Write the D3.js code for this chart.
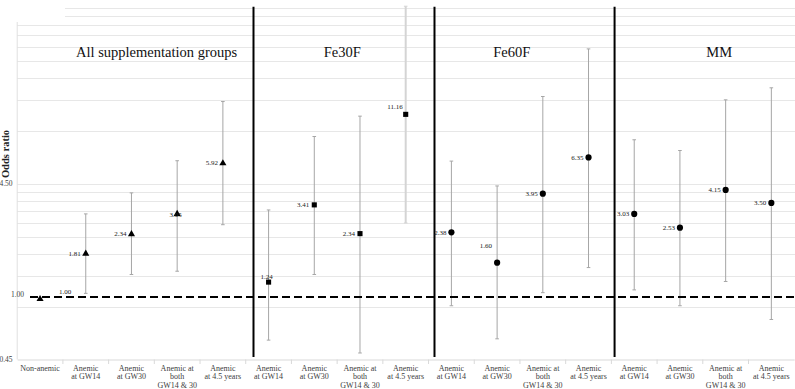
<!DOCTYPE html>
<html>
<head>
<meta charset="utf-8">
<script src="https://cdn.jsdelivr.net/npm/d3@7"></script>
<style>
  html, body { margin: 0; padding: 0; background: #fff; }
  svg { display: block; }
  svg text { font-family: "Liberation Serif", "DejaVu Serif", "Times New Roman", serif; }
</style>
</head>
<body>
<div id="chart"></div>
<script>
// ---------- DATA ----------
const groups = ["All supplementation groups", "Fe30F", "Fe60F", "MM"];
const categoryLabels = [
  "Non-anemic", "Anemic\nat GW14", "Anemic\nat GW30", "Anemic at\nboth\nGW14 & 30", "Anemic\nat 4.5 years",
  "Anemic\nat GW14", "Anemic\nat GW30", "Anemic at\nboth\nGW14 & 30", "Anemic\nat 4.5 years",
  "Anemic\nat GW14", "Anemic\nat GW30", "Anemic at\nboth\nGW14 & 30", "Anemic\nat 4.5 years",
  "Anemic\nat GW14", "Anemic\nat GW30", "Anemic at\nboth\nGW14 & 30", "Anemic\nat 4.5 years"
];
const categoryGroup = [0, 0, 0, 0, 0, 1, 1, 1, 1, 2, 2, 2, 2, 3, 3, 3, 3];
const oddsRatio = [1.00, 1.81, 2.34, 3.05, 5.92, 1.24, 3.41, 2.34, 11.16, 2.38, 1.60, 3.95, 6.35, 3.03, 2.53, 4.15, 3.50];
const ciLower   = [null, 1.07, 1.37, 1.43, 2.63, 0.58, 1.37, 0.49, 2.69, 0.91, 0.59, 1.08, 1.50, 1.12, 0.91, 1.25, 0.76];
const ciUpper   = [null, 3.03, 3.99, 6.08, 13.2, 3.19, 8.35, 10.9, 46.0, 6.05, 4.37, 14.1, 26.3, 8.00, 6.95, 13.5, 15.8];
const yTickValues = [0.45, 4.5];
const yTickLabels = ["0.45", "4.50"];
const referenceValue = 1.00;
const referenceLabel = "1.00";
const yAxisTitle = "Odds ratio";

// ---------- LAYOUT ----------
const W = 795, H = 389;
const svg = d3.select("#chart").append("svg").attr("width", W).attr("height", H)
  .style("background", "#fff");

const x = d3.scaleBand().domain(d3.range(categoryLabels.length)).range([17.2, 794.2]).padding(0);
const step = x.step();
const cx = i => x(i) + step / 2;
const pos = t => x.range()[0] + t * step; // continuous position in category units

const y = d3.scaleLog().domain([0.45, 45]).range([359.5, 7.9]);

// gridlines (log minor grid at multiples of 0.45)
const gridVals = [];
[0.45, 4.5, 45].forEach(d => d3.range(1, 10).forEach(k => { const v = d * k; if (v > 0.45 && v <= 49.5 + 1e-9) gridVals.push(v); }));
svg.append("g").selectAll("line").data(gridVals).join("line")
  .attr("x1", d => d > 36.5 ? 65 : x.range()[0]).attr("x2", W)
  .attr("y1", d => Math.round(y(d)) + 0.5).attr("y2", d => Math.round(y(d)) + 0.5)
  .attr("stroke", "#e7e7e7").attr("stroke-width", 1);

// left axis line and bottom axis
svg.append("line").attr("x1", x.range()[0]).attr("x2", x.range()[0]).attr("y1", 22).attr("y2", y(0.45))
  .attr("stroke", "#e0e0e0");
const xAxis = d3.axisBottom(x).tickSize(0).tickFormat(() => "");
const gx = svg.append("g").attr("transform", `translate(0,${y(0.45)})`).call(xAxis);
gx.select(".domain").attr("stroke", "#d9d9d9");
// boundary ticks
svg.append("g").selectAll("line").data(d3.range(1, categoryLabels.length)).join("line")
  .attr("x1", d => x(d)).attr("x2", d => x(d))
  .attr("y1", y(0.45)).attr("y2", y(0.45) + 4.5)
  .attr("stroke", "#d9d9d9");

// category labels
const lab = svg.append("g").attr("font-size", 8).attr("fill", "#404040");
categoryLabels.forEach((s, i) => {
  const t = lab.append("text").attr("x", cx(i)).attr("y", 371).attr("text-anchor", "middle");
  s.split("\n").forEach((line, j) => t.append("tspan").attr("x", cx(i)).attr("dy", j === 0 ? 0 : 8.3).text(line));
});

// y tick labels
svg.append("g").selectAll("text").data(yTickValues).join("text")
  .attr("x", 12.5).attr("y", d => y(d) + 2.5).attr("text-anchor", "end")
  .attr("font-size", 7.5).attr("fill", "#404040")
  .text((d, i) => yTickLabels[i]);
svg.append("text").attr("x", 24).attr("y", y(referenceValue) - 1.5).attr("text-anchor", "end")
  .attr("font-size", 7.5).attr("fill", "#404040").text(referenceLabel);

// y axis title
svg.append("text").attr("transform", `translate(8.5,154) rotate(-90)`).attr("text-anchor", "middle")
  .attr("font-size", 10.5).attr("font-weight", "bold").attr("fill", "#222")
  .text(yAxisTitle);

// group dividers (in category units)
const dividerPos = [5.17, 9.13, 13.07];
svg.append("g").selectAll("line").data(dividerPos).join("line")
  .attr("x1", d => pos(d)).attr("x2", d => pos(d)).attr("y1", 6.7).attr("y2", 357)
  .attr("stroke", "#000").attr("stroke-width", 2);

// group titles
const titlePos = [3.05, 7.11, 10.82, 15.36];
svg.append("g").selectAll("text").data(groups).join("text")
  .attr("x", (d, i) => pos(titlePos[i])).attr("y", 57).attr("text-anchor", "middle")
  .attr("font-size", 14.5).attr("fill", "#111").text(d => d);

// error bars
const idx = d3.range(oddsRatio.length).filter(i => ciLower[i] != null);
const eb = svg.append("g");
idx.forEach(i => {
  const top = Math.max(y(ciUpper[i]), 6);
  const bot = y(ciLower[i]);
  const special = (i === 8);
  const col = special ? "#d4d4d4" : "#a6a6a6";
  eb.append("line").attr("x1", cx(i)).attr("x2", cx(i)).attr("y1", top).attr("y2", bot)
    .attr("stroke", col).attr("stroke-width", special ? 2 : 1);
  [top, bot].forEach(yy => eb.append("line").attr("x1", cx(i) - 1.8).attr("x2", cx(i) + 1.8)
    .attr("y1", yy).attr("y2", yy).attr("stroke", col).attr("stroke-width", 1));
});

// reference dashed line
svg.append("line").attr("x1", 30).attr("x2", W).attr("y1", y(referenceValue) - 1.5).attr("y2", y(referenceValue) - 1.5)
  .attr("stroke", "#000").attr("stroke-width", 2).attr("stroke-dasharray", "8,4");

// markers
const shapes = [d3.symbolTriangle, d3.symbolSquare, d3.symbolCircle, d3.symbolCircle];
const sizes = [22, 26, 30, 30];
svg.append("g").selectAll("path").data(oddsRatio).join("path")
  .attr("transform", (d, i) => `translate(${cx(i)},${y(d) + (shapes[categoryGroup[i]] === d3.symbolTriangle ? 0.5 : 0)})`)
  .attr("d", (d, i) => d3.symbol().type(shapes[categoryGroup[i]]).size(sizes[categoryGroup[i]])())
  .attr("fill", "#000");

// data labels
const labelOffset = { 0: [19, -7, "start"], 3: [4.5, 1, "end"], 5: [-2, -5.5, "middle"], 8: [-3, -7.5, "end"], 10: [-5, -17, "end"] };
svg.append("g").selectAll("text").data(oddsRatio).join("text")
  .attr("x", (d, i) => cx(i) + (labelOffset[i] ? labelOffset[i][0] : -5))
  .attr("y", (d, i) => y(d) + 2.5 + (labelOffset[i] ? labelOffset[i][1] : 0))
  .attr("text-anchor", (d, i) => labelOffset[i] ? labelOffset[i][2] : "end")
  .attr("font-size", 7).attr("fill", "#222")
  .text(d => d.toFixed(2));
</script>
</body>
</html>
